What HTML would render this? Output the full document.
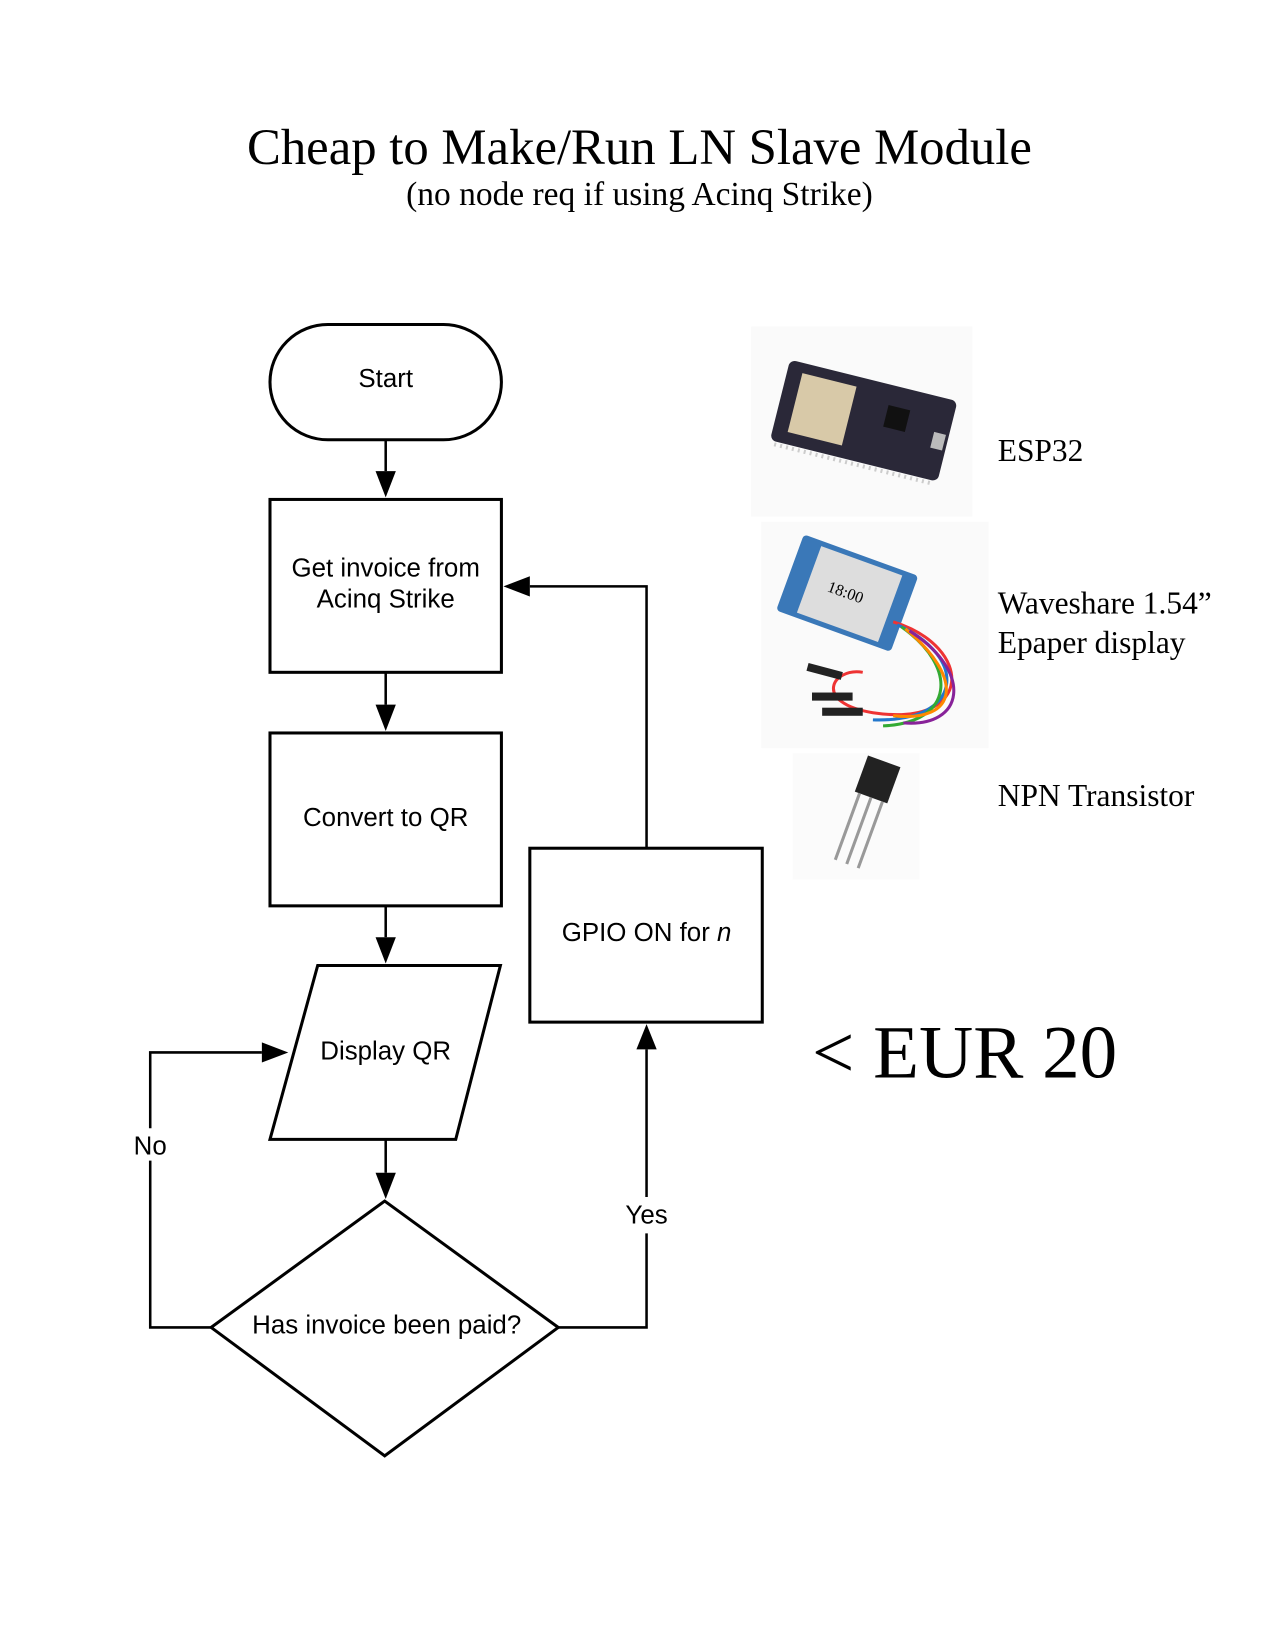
<!DOCTYPE html>
<html><head><meta charset="utf-8"><style>
html,body{margin:0;padding:0;background:#fff;}
svg{display:block}
</style></head><body>
<svg width="1275" height="1651" viewBox="0 0 1275 1651" xmlns="http://www.w3.org/2000/svg">
<rect width="1275" height="1651" fill="#fff"/>
<g transform="scale(1.015,1.011)">
<text x="630" y="162" text-anchor="middle" font-family="Liberation Serif, serif" font-size="50">Cheap to Make/Run LN Slave Module</text>
<text x="630" y="203" text-anchor="middle" font-family="Liberation Serif, serif" font-size="33">(no node req if using Acinq Strike)</text>

<g fill="none" stroke="#000" stroke-width="3">
<rect x="266" y="321" width="228" height="114" rx="57" ry="57"/>
<rect x="266" y="494" width="228" height="171"/>
<rect x="266" y="725" width="228" height="171"/>
<polygon points="313,955 493,955 449,1127 266,1127"/>
<polygon points="379,1188 550,1313 379,1440 208,1313"/>
<rect x="522" y="839" width="229" height="172"/>
</g>
<g stroke="#000" stroke-width="2.5" fill="none">
<line x1="380" y1="435" x2="380" y2="466"/>
<path d="M370,466 L390,466 L380,492 z" fill="#000" stroke="none"/>
<line x1="380" y1="665" x2="380" y2="697"/>
<path d="M370,697 L390,697 L380,723 z" fill="#000" stroke="none"/>
<line x1="380" y1="896" x2="380" y2="927"/>
<path d="M370,927 L390,927 L380,953 z" fill="#000" stroke="none"/>
<line x1="380" y1="1127" x2="380" y2="1160"/>
<path d="M370,1160 L390,1160 L380,1186 z" fill="#000" stroke="none"/>
<polyline points="208,1313 148,1313 148,1148"/>
<polyline points="148,1116 148,1041 258,1041"/>
<path d="M258,1031 L258,1051 L284,1041 z" fill="#000" stroke="none"/>
<polyline points="550,1313 637,1313 637,1220"/>
<polyline points="637,1184 637,1038"/>
<path d="M627,1038 L647,1038 L637,1013 z" fill="#000" stroke="none"/>
<polyline points="637,839 637,580 522,580"/>
<path d="M522,570 L522,590 L496,580 z" fill="#000" stroke="none"/>
</g>
<g font-family="Liberation Sans, sans-serif" font-size="25.5" text-anchor="middle" fill="#000">
<text x="380" y="383">Start</text>
<text x="380" y="570">Get invoice from</text>
<text x="380" y="601">Acinq Strike</text>
<text x="380" y="817">Convert to QR</text>
<text x="380" y="1048">Display QR</text>
<text x="381" y="1319">Has invoice been paid?</text>
<text x="637" y="931">GPIO ON for <tspan font-style="italic">n</tspan></text>
<text x="148" y="1142">No</text>
<text x="637" y="1210">Yes</text>
</g>

<!-- ESP32 -->
<rect x="740" y="323" width="218" height="188" fill="#fafafa"/>
<g transform="rotate(14 850 420)">
<rect x="765" y="375" width="170" height="82" rx="6" fill="#2a2838"/>
<rect x="780" y="385" width="55" height="60" fill="#d8c9a8"/>
<rect x="870" y="395" width="22" height="22" fill="#111"/>
<rect x="920" y="410" width="12" height="16" fill="#bbb"/>
<line x1="770" y1="460" x2="930" y2="460" stroke="#ccc" stroke-width="4" stroke-dasharray="2,4"/>
</g>
<!-- Epaper -->
<rect x="750" y="516" width="224" height="224" fill="#fafafa"/>
<g transform="rotate(20 830 585)">
<rect x="775" y="545" width="120" height="80" rx="4" fill="#3a78b8"/>
<rect x="795" y="550" width="85" height="70" fill="#ddd"/>
<text x="815" y="590" font-family="Liberation Serif, serif" font-size="16">18:00</text>
</g>
<g fill="none" stroke-width="3">
<path d="M880,615 C960,640 960,720 860,705 C800,695 820,660 850,665" stroke="#e33"/>
<path d="M884,618 C955,650 950,715 860,712" stroke="#27c"/>
<path d="M888,620 C945,660 940,715 870,718" stroke="#3a3"/>
<path d="M892,622 C950,670 945,715 880,708" stroke="#f80"/>
<path d="M896,624 C960,665 950,720 890,715" stroke="#829"/>
</g>
<g fill="#222"><rect x="795" y="660" width="35" height="8" transform="rotate(15 812 664)"/><rect x="800" y="685" width="40" height="8"/><rect x="810" y="700" width="40" height="8"/></g>
<!-- transistor -->
<rect x="781" y="745" width="125" height="125" fill="#fbfbfb"/>
<g transform="rotate(20 865 770)">
<path d="M848,752 L882,752 L882,790 L848,790 z" fill="#222"/>
<line x1="853" y1="790" x2="853" y2="860" stroke="#999" stroke-width="3"/>
<line x1="865" y1="790" x2="865" y2="860" stroke="#999" stroke-width="3"/>
<line x1="877" y1="790" x2="877" y2="860" stroke="#999" stroke-width="3"/>
</g>

<g font-family="Liberation Serif, serif" font-size="31" fill="#000">
<text x="983" y="456">ESP32</text>
<text x="983" y="607">Waveshare 1.54”</text>
<text x="983" y="646">Epaper display</text>
<text x="983" y="797">NPN Transistor</text>
</g>
<text x="800" y="1066" font-family="Liberation Serif, serif" font-size="74" fill="#000">&lt; EUR 20</text>
</g>
</svg>
</body></html>
